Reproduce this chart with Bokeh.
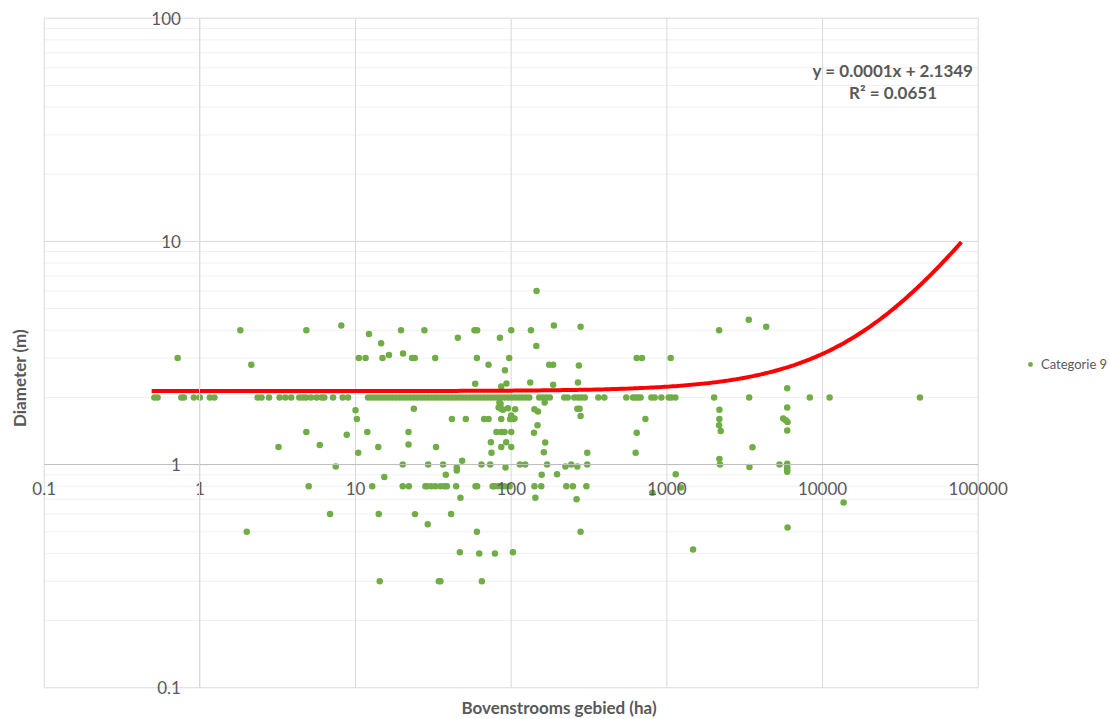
import numpy as np
from bokeh.plotting import figure
from bokeh.models import (FixedTicker, Range1d, Legend, LegendItem, Label,
                          ColumnDataSource)
from bokeh.embed import file_html
from bokeh.resources import INLINE

# ---------------- data ----------------
series_name = "Categorie 9"
x_label = "Bovenstrooms gebied (ha)"
y_label = "Diameter (m)"

# Bovenstrooms gebied (ha)
x_vals = [
    1.82, 0.72, 4.83, 8.1, 12.2, 14.6, 10.5, 11.6, 14.9, 16.4, 19.6, 2.14,
    0.51, 0.535, 0.76, 0.79, 0.915, 1.0, 1.16, 1.24, 2.35, 2.49, 2.78, 3.25, 3.54,
    3.86, 4.35, 4.58, 4.81, 5.17, 5.63, 6.06, 6.3, 7.17, 8.27, 8.95,
    12.03, 12.67, 13.35, 14.06, 14.81, 15.59, 16.42, 17.3, 18.22, 19.19, 20.21,
    21.28, 22.41, 23.61, 24.86, 26.18, 27.57, 29.04, 30.59, 32.21, 33.92, 35.73,
    37.63, 39.63, 41.74, 43.96, 46.3, 48.76, 51.35, 54.08, 56.96, 59.99, 63.18,
    66.55, 70.08, 73.81, 77.74, 81.88, 86.23, 90.82, 95.65, 100.7, 106.1, 111.7,
    117.7, 123.9, 130.6, 151.4, 159.4, 168.0, 176.9, 219.2, 230.8, 254.2, 267.7,
    282.0, 297.0, 362.6, 396.4,
    549, 606, 627, 654, 678, 795, 835, 922, 1027, 1069, 1134, 2012, 3378, 8285,
    11100, 42240,
    10.0, 10.2, 4.83, 8.78, 11.9, 3.2, 5.89, 14.0, 10.4, 7.46, 15.3, 5.0, 12.8,
    6.86, 14.1, 2.0, 14.3,
    27.7, 45.4, 58.1, 60.4, 84.6, 100, 134, 145.5, 145, 188, 279, 20.2, 23.1,
    24.0, 32.5, 60.2, 71.5, 97.1, 91.1, 175.5, 186, 272, 58.7, 93.3, 86.3, 132.5,
    186, 268.5, 640, 692,
    23.7, 41.6, 51.1, 67, 71.5, 86.3, 83, 86, 88.5, 95.3, 106, 100, 103, 105,
    141, 148.5, 147.6, 164, 266, 275, 279, 21.9, 21.9, 32.9, 80.4, 86.3, 90.6,
    100, 92.9, 74, 86.3, 100, 74.7, 140, 165.4, 162, 308, 640, 630, 728,
    84, 85.5, 98.5,
    20.1, 29.3, 36.5, 44.7, 44.7, 48.4, 38, 64.4, 73.3, 91.9, 113.7, 123, 170,
    157, 197, 223, 243, 266, 308,
    20.1, 22.0, 28.1, 28.8, 30.6, 32.6, 35.1, 37.2, 38.6, 44.3, 59.0, 60.4, 76.0,
    78, 82.1, 86.3, 90.6, 97.7, 141, 156, 226, 249, 304,
    47.2, 143, 263, 24.1, 41.1, 29.1, 60.2, 279, 46.8, 62.3, 78.6, 102.6, 34.3,
    35.1, 64.8,
    1058, 2166, 3357, 4347, 5930, 2175, 2175, 2166, 2218, 3548, 2175, 2195,
    3393, 5290, 5930, 5590, 5807, 5960, 5930, 5930, 5930, 5930, 5930, 1140, 807,
    13650, 5960, 1473, 1230,
]

# Diameter (m)
y_vals = [
    4.0, 3.0, 4.0, 4.2, 3.85, 3.5, 3.0, 3.0, 3.0, 3.1, 4.0, 2.8,
    2.0, 2.0, 2.0, 2.0, 2.0, 2.0, 2.0, 2.0, 2.0, 2.0, 2.0, 2.0, 2.0,
    2.0, 2.0, 2.0, 2.0, 2.0, 2.0, 2.0, 2.0, 2.0, 2.0, 2.0,
    2.0, 2.0, 2.0, 2.0, 2.0, 2.0, 2.0, 2.0, 2.0, 2.0, 2.0,
    2.0, 2.0, 2.0, 2.0, 2.0, 2.0, 2.0, 2.0, 2.0, 2.0, 2.0,
    2.0, 2.0, 2.0, 2.0, 2.0, 2.0, 2.0, 2.0, 2.0, 2.0, 2.0,
    2.0, 2.0, 2.0, 2.0, 2.0, 2.0, 2.0, 2.0, 2.0, 2.0, 2.0,
    2.0, 2.0, 2.0, 2.0, 2.0, 2.0, 2.0, 2.0, 2.0, 2.0, 2.0,
    2.0, 2.0, 2.0, 2.0,
    2.0, 2.0, 2.0, 2.0, 2.0, 2.0, 2.0, 2.0, 2.0, 2.0, 2.0, 2.0, 2.0, 2.0,
    2.0, 2.0,
    1.75, 1.6, 1.4, 1.36, 1.4, 1.2, 1.225, 1.2, 1.13, 0.98, 0.88, 0.8, 0.8,
    0.6, 0.6, 0.5, 0.3,
    4.0, 3.7, 4.0, 4.0, 3.7, 4.0, 4.0, 6.0, 3.4, 4.2, 4.15, 3.15, 3.0,
    3.0, 3.0, 3.0, 2.8, 3.0, 2.65, 2.8, 2.8, 2.78, 2.3, 2.31, 2.24, 2.33,
    2.28, 2.33, 3.0, 3.0,
    1.78, 1.6, 1.6, 1.6, 1.6, 1.6, 1.8, 1.78, 1.76, 1.79, 1.77, 1.66, 1.6, 1.61,
    1.77, 1.73, 1.5, 1.9, 1.78, 1.78, 1.65, 1.4, 1.23, 1.2, 1.4, 1.4, 1.4,
    1.4, 1.26, 1.26, 1.2, 1.2, 1.13, 1.39, 1.255, 1.135, 1.13, 1.39, 1.13, 1.6,
    1.9, 1.87, 1.6,
    1.0, 1.0, 1.0, 0.97, 0.94, 1.04, 0.9, 1.0, 1.0, 0.97, 1.0, 1.0, 1.0,
    0.9, 0.905, 0.98, 1.0, 0.98, 1.0,
    0.8, 0.8, 0.8, 0.8, 0.8, 0.8, 0.8, 0.8, 0.8, 0.8, 0.8, 0.8, 0.8,
    0.8, 0.8, 0.8, 0.8, 0.8, 0.8, 0.8, 0.8, 0.8, 0.8,
    0.71, 0.71, 0.70, 0.6, 0.6, 0.54, 0.5, 0.5, 0.405, 0.40, 0.40, 0.405, 0.3,
    0.3, 0.3,
    3.0, 4.0, 4.46, 4.15, 2.2, 1.76, 1.6, 1.5, 1.415, 1.195, 1.06, 1.0,
    0.976, 1.0, 1.8, 1.61, 1.58, 1.55, 1.42, 1.01, 0.97, 0.95, 0.93, 0.905, 0.747,
    0.676, 0.522, 0.416, 0.79,
]

# linear trendline reported in the chart
trend_slope = 0.0001
trend_intercept = 2.1349
trend_r2 = 0.0651
trend_x_start = 0.49
trend_x_end = 78000

x_ticks = [0.1, 1, 10, 100, 1000, 10000, 100000]
x_tick_labels = ["0.1", "1", "10", "100", "1000", "10000", "100000"]
y_ticks = [0.1, 1, 10, 100]
y_tick_labels = ["0.1", "1", "10", "100"]
y_minor_ticks = [0.2, 0.3, 0.4, 0.5, 0.6, 0.7, 0.8, 0.9,
                 2, 3, 4, 5, 6, 7, 8, 9,
                 20, 30, 40, 50, 60, 70, 80, 90]

# ---------------- layout (pixels of the page) ----------------
W, H = 1109, 719
PA_LEFT, PA_RIGHT = 43.7, 977.7      # plot area: x = 0.1 ... 100000
PA_TOP, PA_BOTTOM = 17.7, 687.3      # plot area: y = 100 ... 0.1
X_MIN, X_MAX = x_ticks[0], x_ticks[-1]
Y_MIN, Y_MAX = y_ticks[0], y_ticks[-1]
x_dec = (PA_RIGHT - PA_LEFT) / np.log10(X_MAX / X_MIN)
y_dec = (PA_BOTTOM - PA_TOP) / np.log10(Y_MAX / Y_MIN)


def px_x(px):
    return X_MIN * 10 ** ((px - PA_LEFT) / x_dec)


def px_y(py):
    return Y_MIN * 10 ** ((PA_BOTTOM - py) / y_dec)


FONT = "Lato"
TXT = "#595959"
GREEN = "#70AD47"
MAJOR = "#D9D9D9"
MINOR = "#F0F0F0"

p = figure(width=W, height=H, x_axis_type="log", y_axis_type="log",
           x_range=Range1d(px_x(0), px_x(W)), y_range=Range1d(px_y(H), px_y(0)),
           output_backend="svg", toolbar_location=None,
           min_border_left=0, min_border_top=0, min_border_right=0,
           min_border_bottom=0, background_fill_color="white",
           border_fill_color="white", outline_line_color=None)
p.xgrid.visible = False
p.ygrid.visible = False

# gridlines, bounded to the plot area
p.segment(x0=[X_MIN] * len(y_minor_ticks), x1=[X_MAX] * len(y_minor_ticks),
          y0=y_minor_ticks, y1=y_minor_ticks, line_color=MINOR, line_width=1)
p.segment(x0=[X_MIN] * len(y_ticks), x1=[X_MAX] * len(y_ticks),
          y0=y_ticks, y1=y_ticks, line_color=MAJOR, line_width=1)
p.segment(x0=x_ticks, x1=x_ticks, y0=[Y_MIN] * len(x_ticks),
          y1=[Y_MAX] * len(x_ticks), line_color=MAJOR, line_width=1)

# axes crossing at (1, 1)
for ax in (p.xaxis[0], p.yaxis[0]):
    ax.fixed_location = 1
    ax.major_tick_line_color = None
    ax.minor_tick_line_color = None
    ax.axis_line_color = "#BFBFBF"
    ax.major_label_text_font = FONT
    ax.major_label_text_font_size = "17px"
    ax.major_label_text_color = TXT
    ax.axis_label = None

p.xaxis.ticker = FixedTicker(ticks=x_ticks)
p.xaxis.bounds = (X_MIN, X_MAX)
p.xaxis.major_label_overrides = dict(zip(x_ticks, x_tick_labels))
p.xaxis.major_label_standoff = 11
p.yaxis.ticker = FixedTicker(ticks=y_ticks)
p.yaxis.bounds = (Y_MIN, Y_MAX)
p.yaxis.major_label_overrides = dict(zip(y_ticks, y_tick_labels))
p.yaxis.major_label_standoff = 13
p.yaxis.axis_line_color = MAJOR

# axis titles
p.add_layout(Label(x=px_x(558.5), y=px_y(707), text=x_label,
                   text_align="center", text_baseline="middle", text_font=FONT,
                   text_font_size="17px", text_font_style="bold", text_color=TXT))
p.add_layout(Label(x=px_x(19), y=px_y(377.5), text=y_label, angle=np.pi / 2,
                   text_align="center", text_baseline="middle", text_font=FONT,
                   text_font_size="17px", text_font_style="bold", text_color=TXT))

# scatter points
src = ColumnDataSource(data=dict(x=x_vals, y=y_vals))
pts = p.scatter("x", "y", source=src, size=6.5, fill_color=GREEN,
                line_color=GREEN, line_width=0)

# trendline
tx = np.logspace(np.log10(trend_x_start), np.log10(trend_x_end), 300)
ty = trend_slope * tx + trend_intercept
p.line(tx, ty, line_color="#FF0000", line_width=4)

# equation label
p.add_layout(Label(x=px_x(892.5), y=px_y(70), text=f"y = {trend_slope}x + {trend_intercept}",
                   text_align="center", text_baseline="middle", text_font=FONT,
                   text_font_size="17px", text_font_style="bold", text_color=TXT))
p.add_layout(Label(x=px_x(892.5), y=px_y(92), text=f"R² = {trend_r2}",
                   text_align="center", text_baseline="middle", text_font=FONT,
                   text_font_size="17px", text_font_style="bold", text_color=TXT))

# legend
legend = Legend(items=[LegendItem(label=series_name, renderers=[pts])],
                location=(1024, 345), margin=0, padding=10, glyph_width=12,
                label_standoff=5, border_line_color=None,
                background_fill_alpha=0, label_text_font=FONT,
                label_text_font_size="13px", label_text_color=TXT)
p.add_layout(legend, "center")

open("out.html", "w").write(file_html(p, INLINE))
